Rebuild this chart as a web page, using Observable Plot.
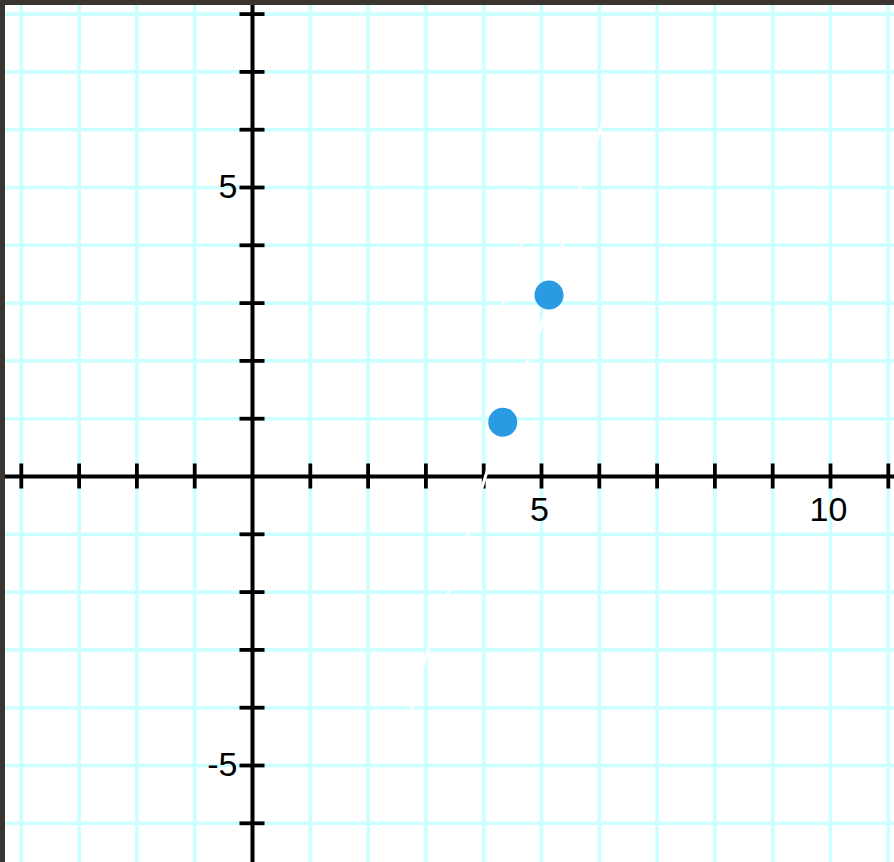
<!DOCTYPE html>
<html>
<head>
<meta charset="utf-8">
<script src="https://cdn.jsdelivr.net/npm/d3@7"></script>
<script src="https://cdn.jsdelivr.net/npm/@observablehq/plot@0.6"></script>
<style>
  html, body { margin: 0; padding: 0; background: #ffffff; overflow: hidden; }
  #frame { border-top: 5px solid #3b3531; border-left: 5px solid #3b3531; width: 889px; height: 857px; overflow: hidden; background: #fff; }
  #frame svg { display: block; }
</style>
</head>
<body>
<div id="frame"></div>
<script>
// Grid, ticks and labels
const xGrid = [-4, -3, -2, -1, 0, 1, 2, 3, 4, 5, 6, 7, 8, 9, 10, 11];
const yGrid = [-6, -5, -4, -3, -2, -1, 0, 1, 2, 3, 4, 5, 6, 7, 8];
const xTicks = [-4, -3, -2, -1, 1, 2, 3, 4, 5, 6, 7, 8, 9, 10, 11];
const yTicks = [-6, -5, -4, -3, -2, -1, 1, 2, 3, 4, 5, 6, 7, 8];
const xLabels = [5, 10];
const xLabelText = ["5", "10"];
const yLabels = [5, -5];
const yLabelText = ["5", "-5"];

// Blue points
const pointX = [4.33, 5.13];
const pointY = [0.94, 3.14];

// Faint white line (only visible where it crosses the grid and axes)
const lineAX = [2.65, 2.77, 3.0, 3.39, 3.72, 4.03, 4.33, 5.0, 5.36, 5.67, 6.02, 6.07];
const lineAY = [-4.4, -4.0, -3.1, -2.0, -1.0, 0.0, 0.95, 2.6, 4.0, 5.0, 6.0, 6.2];
const lineBX = [4.22, 4.34, 4.64, 4.7];
const lineBY = [2.6, 3.0, 4.0, 4.2];

const pts = pointX.map((x, i) => ({x, y: pointY[i]}));
const lineA = lineAX.map((x, i) => ({x, y: lineAY[i]}));
const lineB = lineBX.map((x, i) => ({x, y: lineBY[i]}));
const xLab = xLabels.map((v, i) => ({v, t: xLabelText[i]}));
const yLab = yLabels.map((v, i) => ({v, t: yLabelText[i]}));

const gridColor = "#ccffff";
const tickHalf = -12.5;

const chart = Plot.plot({
  width: 889,
  height: 857,
  margin: 0,
  style: {fontFamily: "Liberation Sans, Arial, sans-serif", background: "white"},
  x: {domain: [-4.2734, 11.1073], axis: null},
  y: {domain: [-6.6782, 8.1488], axis: null},
  marks: [
    Plot.ruleX(xGrid, {x: d => d, stroke: gridColor, strokeWidth: 3.6}),
    Plot.ruleY(yGrid, {y: d => d, stroke: gridColor, strokeWidth: 3.6}),
    Plot.ruleY([0], {y: d => d, stroke: "black", strokeWidth: 4}),
    Plot.ruleX([0], {x: d => d, stroke: "black", strokeWidth: 4}),
    Plot.ruleX(xTicks, {x: d => d, y1: () => 0, y2: () => 0, insetTop: tickHalf, insetBottom: tickHalf, stroke: "black", strokeWidth: 3.8}),
    Plot.ruleY(yTicks, {y: d => d, x1: () => 0, x2: () => 0, insetLeft: tickHalf, insetRight: tickHalf, stroke: "black", strokeWidth: 3.8}),
    Plot.line(lineA, {x: "x", y: "y", stroke: "white", strokeWidth: 3, curve: "linear"}),
    Plot.line(lineB, {x: "x", y: "y", stroke: "white", strokeWidth: 2.5}),
    Plot.text(xLab, {x: "v", y: () => 0, text: "t", dy: 34, dx: -2, fontSize: 34, lineAnchor: "middle", textAnchor: "middle", fill: "black"}),
    Plot.text(yLab, {x: () => 0, y: "v", text: "t", dx: -15, fontSize: 34, lineAnchor: "middle", textAnchor: "end", fill: "black"}),
    Plot.dot(pts, {x: "x", y: "y", r: 14.5, fill: "#2a9ae3", stroke: "none"})
  ]
});
document.getElementById("frame").appendChild(chart);
</script>
</body>
</html>
